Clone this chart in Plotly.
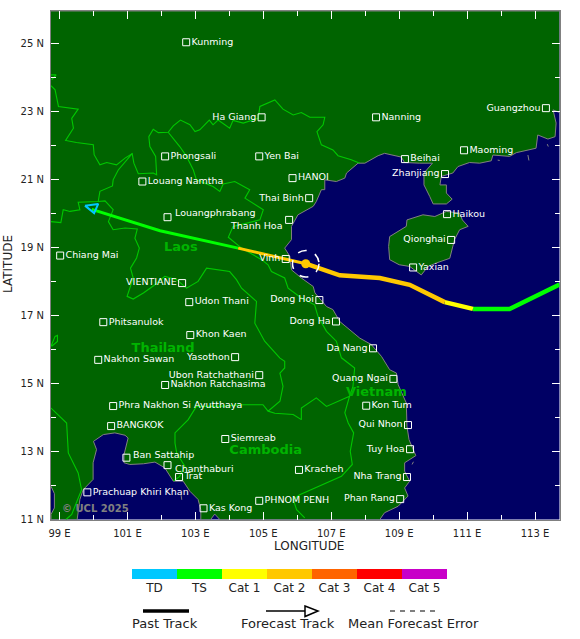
import plotly.graph_objects as go

W, H = 580, 639
FONT = "DejaVu Sans"
SEA = "#000064"
LAND = "#006400"
COAST = "#808080"
BORDER = "#00c800"
NAME_GREEN = "#00b400"

# mainland outline, clockwise from the top left corner
land_lon = [98.75, 113.72, 113.72, 113.53, 113.62, 113.59, 113.38, 113.08, 113.03, 112.64, 112.45, 112.25, 111.76,
            111.71, 111.37, 111.07, 110.73, 110.58, 110.24, 110.2, 110.39, 110.39, 110.56, 110.39, 110.0, 109.9,
            109.73, 109.73, 109.98, 109.6, 109.16, 109.06, 108.72, 108.57, 108.38, 107.99, 107.79, 107.45, 107.4,
            107.15, 106.81, 106.81, 106.71, 106.56, 106.47, 106.02, 105.83, 105.83, 105.63, 105.78, 105.83, 106.12,
            106.47, 106.52, 106.86, 107.05, 107.25, 107.84, 108.18, 108.48, 108.72, 108.92, 108.97, 109.21, 109.23,
            109.29, 109.49, 109.16, 109.16, 109.31, 109.16, 109.26, 108.97, 108.57, 108.43, 103.72, 103.57, 103.45,
            103.16, 103.16, 103.08, 102.84, 102.64, 102.35, 102.1, 101.81, 101.47, 101.07, 100.9, 100.9, 101.02,
            100.93, 100.63, 100.29, 100.0, 100.09, 99.99, 99.99, 99.7, 99.6, 99.52, 98.75, 98.75, 98.85, 98.85, 98.75]
land_lat = [25.97, 25.97, 22.98, 23.06, 22.67, 22.27, 22.2, 22.32, 21.93, 21.83, 21.8, 21.69, 21.73,
            21.56, 21.49, 21.51, 21.39, 21.2, 21.1, 20.85, 20.85, 20.61, 20.43, 20.29, 20.29, 20.51,
            20.85, 21.2, 21.49, 21.49, 21.51, 21.67, 21.76, 21.78, 21.71, 21.49, 21.49, 21.2, 21.05,
            20.95, 21.0, 20.71, 20.71, 20.36, 20.22, 19.97, 19.63, 19.24, 18.99, 18.75, 18.35, 18.11,
            17.86, 17.67, 17.27, 17.18, 16.83, 16.34, 16.15, 15.8, 15.41, 15.31, 14.97, 14.43, 13.74,
            13.35, 12.88, 12.67, 12.42, 12.13, 11.93, 11.69, 11.39, 11.2, 11.0, 11.0, 11.16, 11.0,
            11.0, 11.29, 11.59, 11.83, 12.13, 12.13, 12.52, 12.69, 12.64, 12.62, 12.67, 12.91, 13.4,
            13.48, 13.55, 13.5, 13.3, 13.06, 12.67, 12.18, 11.88, 11.59, 11.0, 11.0, 11.15, 11.34, 11.76, 11.98]

hainan_lon = [108.72, 109.21, 109.23, 109.7, 110.05, 110.39, 110.78, 110.86, 111.03, 110.78, 110.63, 110.49, 110.09,
              109.85, 109.65, 109.31, 109.0, 108.72, 108.69, 108.72]
hainan_lat = [19.33, 19.63, 19.82, 19.97, 19.92, 20.07, 20.02, 19.82, 19.63, 19.53, 19.24, 18.69, 18.55,
              18.45, 18.2, 18.45, 18.5, 18.65, 19.04, 19.33]

islet_lon = [112.79, 112.82, None, 111.9, 111.96, None, 113.36, 113.39, None, 109.38, 109.42, None, 102.58, 102.6]
islet_lat = [21.73, 21.57, None, 21.58, 21.57, None, 22.05, 21.98, None, 12.62, 12.7, None, 11.72, 11.58]

# country borders, one run per None gap
border_lon = [98.75, 98.87, 98.97, 99.55, 99.36, 99.41, 99.18, 99.5, 99.995, 100.02, 100.19, 100.39, 100.68, 100.93,
              101.14, 101.19, 101.32, 101.76, 101.86, 101.83, 101.66, 101.63, 101.76, 101.91, 102.2, 102.35, 102.56,
              102.84, 102.99, 103.13, 103.41, 103.52, 103.67, 104.01, 104.11, 104.41, 104.85, 104.9, 105.34, 105.58,
              105.88, 106.12, 106.37, 106.81, 106.76, 106.58, 106.71, 107.05, 107.2, 107.59, 107.84, None,
              102.2, 102.54, 102.74, 102.94, 103.03, 103.52, 103.72, 103.82, 104.16, 104.6, 104.46, 105.0, 104.9,
              104.11, 103.97, 104.36, 104.95, 105.14, 105.24, 105.63, 105.73, 106.12, 106.51, 106.61, 106.86, 107.15,
              107.3, 107.69, 107.64, 107.54, None,
              101.14, 100.73, 100.58, 100.56, 100.19, 100.14, 99.55, 99.6, 99.31, 99.11, 99.04, 98.75, None,
              100.14, 100.34, 100.58, 100.44, 100.58, 100.93, 101.29, 101.22, 101.35, 101.27, 101.09, 101.17, 100.99,
              101.17, 101.47, 101.81, 102.1, 102.45, 102.74, 103.08, 103.33, 103.62, 104.01, 104.21, 104.36, 104.8,
              104.75, 105.04, 105.49, 105.63, 105.63, 105.49, 105.58, 105.49, 105.14, 104.99, 104.41, 103.72, 103.03,
              102.79, 102.4, 102.4, 102.45, 102.69, 102.54, 102.35, None,
              105.14, 105.34, 105.88, 106.12, 106.12, 106.56, 106.86, 107.25, 107.54, 107.4, 107.5, 107.66, 107.56,
              107.62, 107.3, 106.52, 106.07, 105.88, 105.98, 106.22, None,
              98.75, 99.21, 99.26, 99.55, 99.65, 99.36, 99.19, None,
              98.75, 98.87, 98.94, 98.94, 98.77, None, 98.75, 98.9, 98.77]
border_lat = [23.77, 23.65, 23.16, 23.08, 22.81, 22.52, 22.16, 22.1, 22.03, 21.74, 21.44, 21.51, 21.44, 21.64,
              21.77, 21.49, 21.18, 21.2, 21.15, 21.69, 21.98, 22.27, 22.49, 22.39, 22.4, 22.59, 22.76,
              22.62, 22.42, 22.47, 22.76, 22.62, 22.76, 22.52, 22.75, 22.67, 22.81, 23.16, 23.35, 23.08,
              22.91, 22.98, 22.84, 22.84, 22.62, 22.42, 22.03, 21.88, 21.71, 21.59, 21.49, None,
              22.4, 21.98, 21.69, 21.29, 21.0, 20.8, 20.66, 20.88, 20.95, 20.71, 20.46, 20.12, 19.82,
              19.63, 19.31, 18.99, 18.65, 18.5, 18.3, 18.11, 17.81, 17.52, 17.32, 16.98, 16.54, 16.25,
              15.76, 15.46, 14.92, 14.63, None,
              21.77, 21.29, 21.0, 20.82, 20.66, 20.36, 20.34, 20.12, 20.07, 20.12, 19.74, 19.77, None,
              20.36, 20.38, 20.12, 19.77, 19.53, 19.58, 19.55, 19.28, 18.99, 18.7, 18.4, 18.11, 17.57,
              17.49, 17.67, 17.91, 18.16, 18.06, 17.81, 18.01, 18.4, 18.35, 18.3, 18.06, 17.81, 17.42,
              16.78, 16.25, 15.75, 15.66, 15.46, 15.31, 14.92, 14.48, 14.19, 14.38, 14.38, 14.33, 14.33,
              13.94, 13.55, 13.25, 12.96, 12.57, 12.27, 12.13, None,
              14.19, 14.13, 14.09, 13.94, 14.28, 14.58, 14.33, 14.5, 14.63, 14.14, 13.84, 13.55, 13.01,
              12.62, 12.27, 11.93, 11.73, 11.59, 11.29, 11.05, None,
              14.28, 13.84, 12.96, 12.37, 11.88, 11.15, 11.0, None,
              16.1, 16.39, 16.42, 16.24, 16.1, None, 24.09, 24.09, 23.94]

# storm track, west end is the forecast
past_ts_lon = [113.72, 112.25, 111.17]
past_ts_lat = [17.92, 17.2, 17.2]
past_cat1_lon = [111.17, 110.34]
past_cat1_lat = [17.2, 17.4]
past_cat2_lon = [110.34, 109.31, 108.43, 107.25, 106.25]
past_cat2_lat = [17.4, 17.91, 18.11, 18.19, 18.53]
fcst_cat2_lon = [106.25, 105.3, 104.26]
fcst_cat2_lat = [18.53, 18.75, 18.99]
fcst_ts_lon = [104.26, 101.96, 99.95]
fcst_ts_lat = [18.99, 19.5, 20.13]
arrow_lon = [99.75, 100.14, 100.02, 99.75]
arrow_lat = [20.24, 20.29, 20.02, 20.24]
storm_lon = 106.25
storm_lat = 18.53
error_radius = 0.39

city_names = ["Kunming", "Ha Giang", "Nanning", "Guangzhou", "Phongsali", "Yen Bai", "Beihai", "Maoming",
              "Louang Namtha", "HANOI", "Zhanjiang", "Thai Binh", "Louangphrabang", "Haikou", "Thanh Hoa",
              "Qionghai", "Vinh", "Yaxian", "Chiang Mai", "VIENTIANE", "Udon Thani", "Dong Hoi", "Phitsanulok",
              "Dong Ha", "Khon Kaen", "Da Nang", "Yasothon", "Nakhon Sawan", "Ubon Ratchathani", "Quang Ngai",
              "Nakhon Ratchasima", "Phra Nakhon Si Ayutthaya", "Kon Tum", "Qui Nhon", "BANGKOK", "Siemreab",
              "Tuy Hoa", "Ban Sattahip", "Chanthaburi", "Trat", "Kracheh", "Nha Trang", "Prachuap Khiri Khan",
              "Phan Rang", "PHNOM PENH", "Kas Kong"]
city_lon = [102.73, 104.95, 108.32, 113.32, 102.11, 104.88, 109.17, 110.91,
            101.44, 105.86, 110.35, 106.35, 102.18, 110.41, 105.76,
            110.53, 105.66, 109.41, 99.02, 102.61, 102.82, 106.65, 100.29,
            107.14, 102.85, 108.23, 104.17, 100.14, 104.88, 108.83,
            102.11, 100.58, 108.03, 109.26, 100.52, 103.88,
            109.32, 100.97, 102.18, 102.52, 106.05, 109.23, 99.82,
            109.03, 104.88, 103.24]
city_lat = [25.05, 22.84, 22.84, 23.11, 21.69, 21.69, 21.61, 21.87,
            20.95, 21.05, 21.17, 20.46, 19.9, 19.99, 19.82,
            19.23, 18.67, 18.42, 18.77, 17.96, 17.4, 17.46, 16.81,
            16.83, 16.43, 16.04, 15.78, 15.7, 15.25, 15.14,
            14.96, 14.34, 14.35, 13.78, 13.75, 13.37,
            13.07, 12.82, 12.6, 12.25, 12.46, 12.25, 11.8,
            11.6, 11.55, 11.33]
city_side = ["middle right", "middle left", "middle right", "middle left", "middle right", "middle right",
             "middle right", "middle right", "middle right", "middle right", "middle left", "middle left",
             "middle right", "middle right", "middle left", "middle left", "middle left", "middle right",
             "middle right", "middle left", "middle right", "middle left", "middle right", "middle left",
             "middle right", "middle left", "middle left", "middle right", "middle left", "middle left",
             "middle right", "middle right", "middle right", "middle left", "middle right", "middle right",
             "middle left", "middle right", "middle right", "middle right", "middle right", "middle left",
             "middle right", "middle left", "middle right", "middle right"]

# labels that sit off the square's centre line: pixels right, pixels up
label_nudge = {"Louangphrabang": (5, 5), "Thanh Hoa": (-4, -6), "Ban Sattahip": (5, 3.5), "Chanthaburi": (5, -3)}

country_names = ["Laos", "Thailand", "Cambodia", "Vietnam"]
country_lon = [102.57, 102.05, 105.07, 108.33]
country_lat = [19.01, 16.02, 13.01, 14.73]

lon_major = list(range(99, 114, 2))
lon_minor = list(range(100, 114, 2))
lat_major = list(range(11, 26, 2))
lat_minor = list(range(12, 26, 2))

categories = ["TD", "TS", "Cat 1", "Cat 2", "Cat 3", "Cat 4", "Cat 5"]
category_colors = ["#00c8ff", "#00ff00", "#ffff00", "#ffc800", "#ff6400", "#ff0000", "#c800c8"]


def px(x):
    return x / W


def py(y):
    return 1 - y / H


fig = go.Figure()

fig.add_trace(go.Scatter(x=land_lon, y=land_lat, mode="lines", fill="toself", fillcolor=LAND,
                         line=dict(color=COAST, width=1)))
fig.add_trace(go.Scatter(x=hainan_lon, y=hainan_lat, mode="lines", fill="toself", fillcolor=LAND,
                         line=dict(color=COAST, width=1)))
fig.add_trace(go.Scatter(x=islet_lon, y=islet_lat, mode="lines", line=dict(color=COAST, width=1)))
fig.add_trace(go.Scatter(x=border_lon, y=border_lat, mode="lines", line=dict(color=BORDER, width=1.1)))

# track segments coloured by category
for lon, lat, color, width in [
    (fcst_ts_lon, fcst_ts_lat, "#00ff00", 3),
    (fcst_cat2_lon, fcst_cat2_lat, "#ffc800", 3),
    (past_ts_lon, past_ts_lat, "#00ff00", 4.5),
    (past_cat1_lon, past_cat1_lat, "#ffff00", 4.5),
    (past_cat2_lon, past_cat2_lat, "#ffc800", 4.5),
]:
    fig.add_trace(go.Scatter(x=lon, y=lat, mode="lines", line=dict(color=color, width=width)))

fig.add_trace(go.Scatter(x=arrow_lon, y=arrow_lat, mode="lines", line=dict(color="#00c8ff", width=2)))
fig.add_trace(go.Scatter(x=[storm_lon], y=[storm_lat], mode="markers",
                         marker=dict(color="#ffc800", size=9, line=dict(width=0))))

city_text = ["" if name in label_nudge else name for name in city_names]
fig.add_trace(go.Scatter(x=city_lon, y=city_lat, mode="markers+text", text=city_text, textposition=city_side,
                         marker=dict(symbol="square-open", size=7, color="white", line=dict(width=1)),
                         textfont=dict(family=FONT, size=9.5, color="white")))
fig.add_trace(go.Scatter(x=country_lon, y=country_lat, mode="text", text=country_names,
                         textfont=dict(family=FONT, size=13, color=NAME_GREEN, weight="bold")))

# category colour strip
fig.add_trace(go.Bar(x=categories, y=[1] * len(categories), marker=dict(color=category_colors, line=dict(width=0)),
                     width=1, xaxis="x2", yaxis="y2"))

axis_common = dict(showgrid=False, zeroline=False, showline=True, linecolor=COAST, linewidth=1, mirror="ticks",
                   automargin=False, ticks="inside", ticklen=8, tickcolor="white", tickwidth=1, ticklabelstandoff=4,
                   tickfont=dict(family=FONT, size=10, color="#222222"))

fig.update_layout(
    width=W, height=H, margin=dict(l=0, r=0, t=0, b=0),
    showlegend=False, paper_bgcolor="white", plot_bgcolor=SEA,
    font=dict(family=FONT, color="#222222"),
    xaxis=dict(domain=[px(51), px(559.5)], range=[98.75, 113.72], tickvals=lon_major,
               ticktext=[f"{v} E" for v in lon_major], anchor="y",
               minor=dict(tickmode="array", tickvals=lon_minor, ticks="inside", ticklen=5, tickcolor="white"),
               **axis_common),
    yaxis=dict(domain=[py(519.5), py(11)], range=[11.0, 25.97], tickvals=lat_major,
               ticktext=[f"{v} N" for v in lat_major], anchor="x",
               minor=dict(tickmode="array", tickvals=lat_minor, ticks="inside", ticklen=5, tickcolor="white"),
               **axis_common),
    xaxis2=dict(domain=[px(132), px(447)], anchor="y2", showgrid=False, showline=False, ticks="", automargin=False,
                tickfont=dict(family=FONT, size=12, color="#222222"), ticklabelstandoff=0),
    yaxis2=dict(domain=[py(579), py(569)], anchor="x2", visible=False, range=[0, 1], automargin=False),
    bargap=0,
)

for name, (dx, dy) in label_nudge.items():
    i = city_names.index(name)
    fig.add_annotation(x=city_lon[i], y=city_lat[i], text=name, showarrow=False, xshift=dx, yshift=dy,
                       xanchor="left" if dx > 0 else "right", yanchor="middle",
                       font=dict(family=FONT, size=9.5, color="white"))

# mean forecast error ring around the current position
fig.add_shape(type="circle", xref="x", yref="y", x0=storm_lon - error_radius, x1=storm_lon + error_radius,
              y0=storm_lat - error_radius, y1=storm_lat + error_radius,
              line=dict(color="white", width=1.5, dash="dash"))

# key below the map
fig.add_shape(type="line", xref="paper", yref="paper", x0=px(143), x1=px(189), y0=py(611), y1=py(611),
              line=dict(color="black", width=3.5))
fig.add_shape(type="line", xref="paper", yref="paper", x0=px(266), x1=px(305), y0=py(611), y1=py(611),
              line=dict(color="black", width=1.5))
fig.add_shape(type="path", xref="paper", yref="paper",
              path=f"M {px(305)} {py(606)} L {px(318)} {py(611)} L {px(305)} {py(616.5)} Z",
              line=dict(color="black", width=1.5))
fig.add_shape(type="line", xref="paper", yref="paper", x0=px(390), x1=px(437), y0=py(611), y1=py(611),
              line=dict(color="black", width=1, dash="5px,5px"))


def label(text, x, y, size=12, color="#222222", angle=0, weight="normal"):
    fig.add_annotation(text=text, xref="paper", yref="paper", x=px(x), y=py(y), xanchor="center", yanchor="middle",
                       showarrow=False, textangle=angle, font=dict(family=FONT, size=size, color=color, weight=weight))


label("LONGITUDE", 309, 545.5)
label("LATITUDE", 8, 264, angle=-90)
label("Past Track", 165, 623.5, size=13)
label("Forecast Track", 288, 623.5, size=13)
label("Mean Forecast Error", 413, 623.5, size=13)
label("© UCL 2025", 95, 508, size=10, color=COAST, weight="bold")

fig.write_html("out.html", config=dict(displayModeBar=False), post_script="document.body.style.margin='0';")
